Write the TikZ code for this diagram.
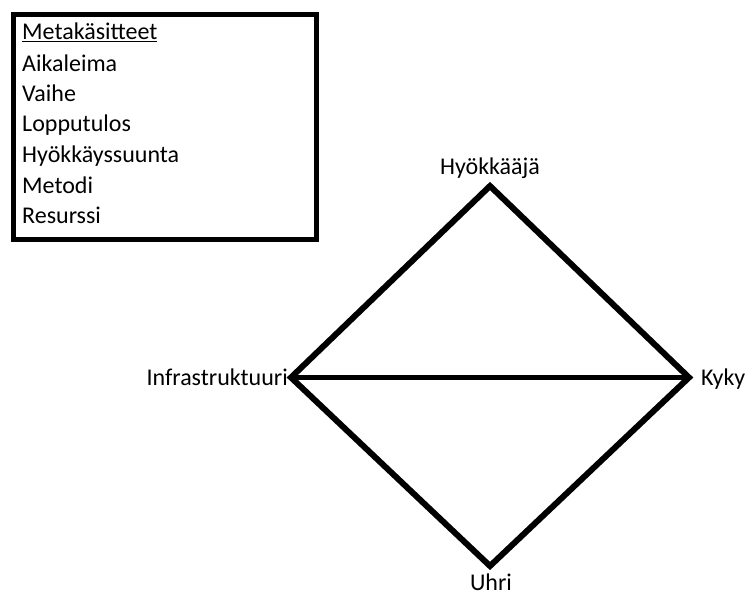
\documentclass[tikz,border=0pt]{standalone}
\usepackage{fontspec}
\setmainfont{Carlito}
\begin{document}
\begin{tikzpicture}[x=1pt,y=-1pt,
  edge/.style={line width=6pt,line join=miter},
  axis/.style={line width=5pt},
  vlabel/.style={inner sep=0pt,font=\fontsize{24}{29}\selectfont},
  metaline/.style={inner sep=0pt,anchor=base west,font=\fontsize{24}{29}\selectfont},
  metabox/.style={draw,line width=4.7pt,inner sep=0pt,anchor=north west}]
\useasboundingbox (0,0) rectangle (748,596);

% legend box with the meta-features
\node[metabox,minimum width=303pt,minimum height=225pt] (legend) at (10.8,12.5) {};
\node[metaline] (m0) at (22,40) {\underline{Metakäsitteet}};
\node[metaline] (m1) at (22,71.5) {Aikaleima};
\node[metaline] (m2) at (22,101.7) {Vaihe};
\node[metaline] (m3) at (22,131.7) {Lopputulos};
\node[metaline] (m4) at (22,163) {Hyökkäyssuunta};
\node[metaline] (m5) at (22,193.3) {Metodi};
\node[metaline] (m6) at (22,223.3) {Resurssi};

% diamond vertices
\coordinate (top) at (490,186);
\coordinate (right) at (689,377.5);
\coordinate (bottom) at (490,566);
\coordinate (left) at (291,377.5);

% diamond edges and the infrastructure--capability axis
\draw[edge] (top) -- (right) -- (bottom) -- (left) -- cycle;
\draw[axis] (left) -- (right);

% vertex labels
\node[vlabel,anchor=base] (adv) at (490,175) {Hyökkääjä};
\node[vlabel,anchor=base] (vic) at (491,590) {Uhri};
\node[vlabel,anchor=base east] (infra) at (288,385) {Infrastruktuuri};
\node[vlabel,anchor=base west] (cap) at (701,385) {Kyky};
\end{tikzpicture}
\end{document}
